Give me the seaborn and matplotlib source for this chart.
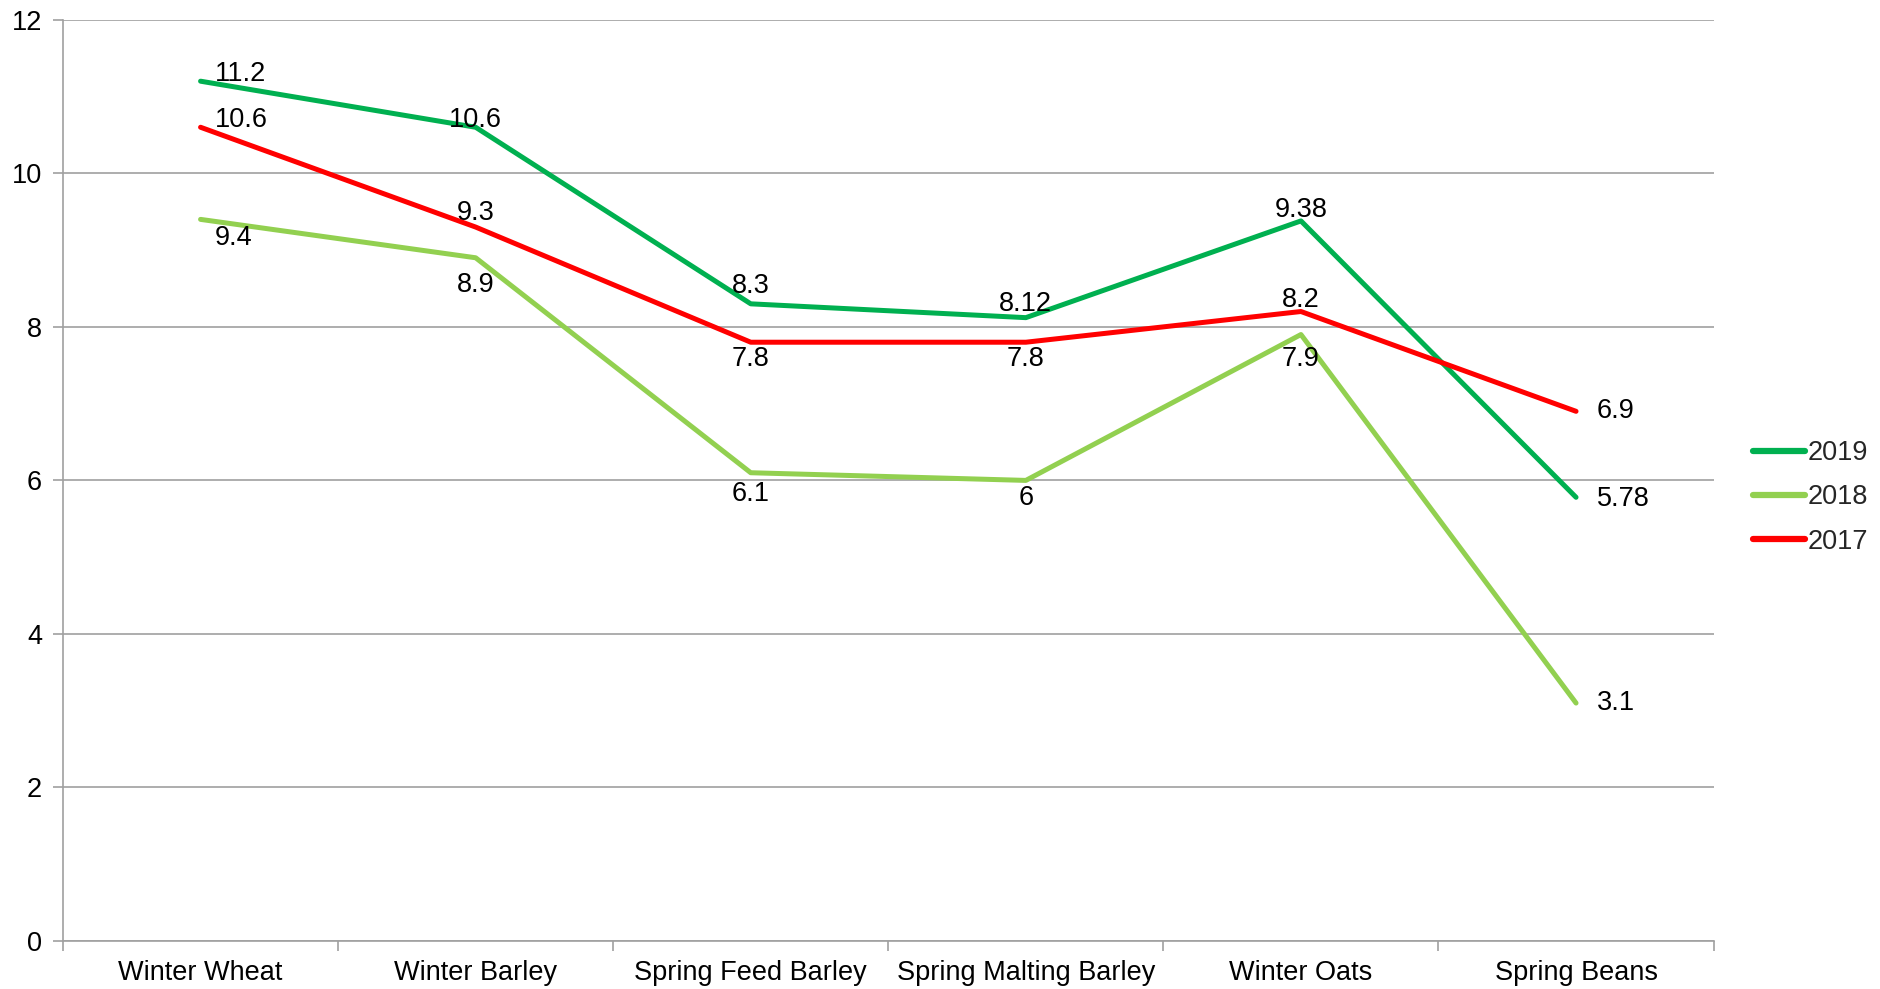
import seaborn as sns
import matplotlib.pyplot as plt
import pandas as pd

crops = ["Winter Wheat", "Winter Barley", "Spring Feed Barley",
         "Spring Malting Barley", "Winter Oats", "Spring Beans"]
y2019 = [11.2, 10.6, 8.3, 8.12, 9.38, 5.78]
y2018 = [9.4, 8.9, 6.1, 6.0, 7.9, 3.1]
y2017 = [10.6, 9.3, 7.8, 7.8, 8.2, 6.9]
years = ["2019", "2018", "2017"]
labels2019 = ["11.2", "10.6", "8.3", "8.12", "9.38", "5.78"]
labels2018 = ["9.4", "8.9", "6.1", "6", "7.9", "3.1"]
labels2017 = ["10.6", "9.3", "7.8", "7.8", "8.2", "6.9"]

colors = {"2019": "#00B050", "2018": "#92D050", "2017": "#FF0000"}

rows = []
for yr, vals in zip(years, [y2019, y2018, y2017]):
    for i, v in enumerate(vals):
        rows.append({"crop": i, "value": v, "year": yr})
df = pd.DataFrame(rows)

sns.set_style("white")
plt.rcParams["font.family"] = ["Liberation Sans", "DejaVu Sans"]
FS = 19.5

fig = plt.figure(figsize=(18.81, 9.89), dpi=100)
ax = fig.add_axes([0.0335, 0.0485, 0.8775, 0.9315])
sns.lineplot(data=df, x="crop", y="value", hue="year", hue_order=years,
             palette=colors, linewidth=3.6, ax=ax, legend=False)

# label placement in points (dx, dy, ha, va)
pos2019 = [(10, 0, "left", "baseline"), (0, 0, "center", "baseline"),
           (0, 8, "center", "baseline"), (0, 5, "center", "baseline"),
           (0, 3, "center", "baseline"), (15, -1, "left", "center")]
pos2018 = [(10, -4, "left", "top"), (0, -10, "center", "top"),
           (0, -6, "center", "top"), (0, -3, "center", "top"),
           (0, -8, "center", "top"), (15, 0, "left", "center")]
pos2017 = [(10, 0, "left", "baseline"), (0, 5, "center", "baseline"),
           (0, -3, "center", "top"), (0, -3, "center", "top"),
           (0, 3, "center", "baseline"), (15, 0, "left", "center")]
for vals, labs, pos in [(y2019, labels2019, pos2019), (y2018, labels2018, pos2018),
                        (y2017, labels2017, pos2017)]:
    for i, (v, t, p) in enumerate(zip(vals, labs, pos)):
        ax.annotate(t, (i, v), xytext=(p[0], p[1]), textcoords="offset points",
                    ha=p[2], va=p[3], fontsize=FS, color="black")

ax.set_xlim(-0.5, 5.5)
ax.set_ylim(0, 12)
ax.set_yticks(range(0, 13, 2))
ax.set_xticks(range(6))
ax.set_xticklabels(crops)
ax.set_xticks([i - 0.5 for i in range(7)], minor=True)
ax.tick_params(axis="x", which="major", length=0, labelsize=FS, pad=14, labelcolor="black")
ax.tick_params(axis="x", which="minor", length=7, color="#A0A0A0", width=1.2,
               bottom=True, direction="out")
ax.tick_params(axis="y", length=7, color="#A0A0A0", width=1.2, labelsize=FS, pad=8,
               labelcolor="black", left=True, direction="out")
ax.set_xlabel("")
ax.set_ylabel("")
ax.grid(axis="y", color="#A0A0A0", linewidth=1.2)
ax.set_axisbelow(True)
for s in ["top", "right"]:
    ax.spines[s].set_visible(False)
for s in ["left", "bottom"]:
    ax.spines[s].set_color("#A0A0A0")
    ax.spines[s].set_linewidth(1.2)

handles = [plt.Line2D([], [], color=colors[y], linewidth=4.5, solid_capstyle="round")
           for y in years]
fig.legend(handles, years, loc="center left", bbox_to_anchor=(0.932, 0.497),
           frameon=False, fontsize=FS, handlelength=1.9, handletextpad=0.1,
           labelspacing=0.68, borderpad=0, borderaxespad=0)

fig.savefig("out.png", dpi=100)
